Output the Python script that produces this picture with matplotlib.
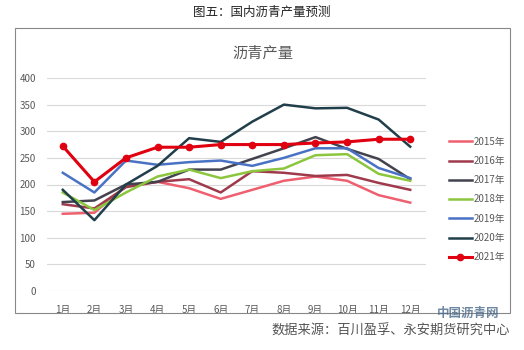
import matplotlib.pyplot as plt
from matplotlib.patches import Rectangle

plt.rcParams['font.family'] = ['Noto Sans CJK SC', 'DejaVu Sans']

months = ['1月', '2月', '3月', '4月', '5月', '6月', '7月', '8月', '9月', '10月', '11月', '12月']
y2015 = [145, 147, 197, 205, 193, 173, 190, 207, 215, 207, 180, 166]
y2016 = [163, 155, 195, 205, 210, 185, 225, 222, 216, 218, 203, 190]
y2017 = [167, 170, 200, 205, 228, 228, 248, 268, 289, 267, 248, 210]
y2018 = [185, 152, 185, 215, 228, 212, 225, 230, 255, 257, 220, 207]
y2019 = [222, 185, 245, 237, 242, 245, 235, 250, 268, 268, 231, 212]
y2020 = [190, 133, 200, 235, 287, 280, 318, 350, 343, 344, 322, 271]
y2021 = [272, 205, 250, 270, 270, 275, 275, 275, 278, 280, 285, 285]

series = [
    ('2015年', y2015, '#EE6070'),
    ('2016年', y2016, '#9E3A4C'),
    ('2017年', y2017, '#43434F'),
    ('2018年', y2018, '#8CC63E'),
    ('2019年', y2019, '#4A72C4'),
    ('2020年', y2020, '#213F4A'),
]

fig = plt.figure(figsize=(5.24, 3.5), dpi=100)
ax = fig.add_axes([47/524, 1-291/350, 379/524, 213/350])

x = list(range(1, 13))
for name, vals, col in series:
    ax.plot(x, vals, color=col, lw=1.8, label=name)
ax.plot(x, y2021, color='#E00010', lw=2.2, marker='o', markersize=4.5, label='2021年')

ax.set_xlim(0.5, 12.5)
ax.set_ylim(0, 400)
ax.set_yticks(range(0, 401, 50))
ax.set_xticks(x)
ax.set_xticklabels(months)
ax.grid(axis='y', color='#D9D9D9', lw=0.8)
ax.set_axisbelow(True)
for s in ax.spines.values():
    s.set_visible(False)
ax.tick_params(length=0, labelsize=7, colors='#595959', pad=10)
ax.tick_params(axis='y', pad=8)

fig.legend(loc='upper left', bbox_to_anchor=(440/524, 1-128/350), frameon=False,
           fontsize=7, labelcolor='#595959', labelspacing=0.95, handlelength=2.4,
           handletextpad=0.2)

# outer chart frame
fig.patches.append(Rectangle((15/524, 1-313/350), 495/524, 285/350, transform=fig.transFigure,
                             fill=False, edgecolor='#888888', lw=0.8))

fig.text(262/524, 1-12/350, '图五：国内沥青产量预测', ha='center', va='center',
         fontsize=9, color='#222222')
fig.text(263/524, 1-53/350, '沥青产量', ha='center', va='center', fontsize=11, color='#595959')
fig.text(510/524, 1-331/350, '数据来源：百川盈孚、永安期货研究中心', ha='right', va='center',
         fontsize=9.5, color='#555555')
fig.text(468/524, 1-313/350, '中国沥青网', ha='center', va='center', fontsize=9,
         color='#4A6A8A', alpha=0.8, fontweight='bold')

fig.savefig('out.png', dpi=100)
